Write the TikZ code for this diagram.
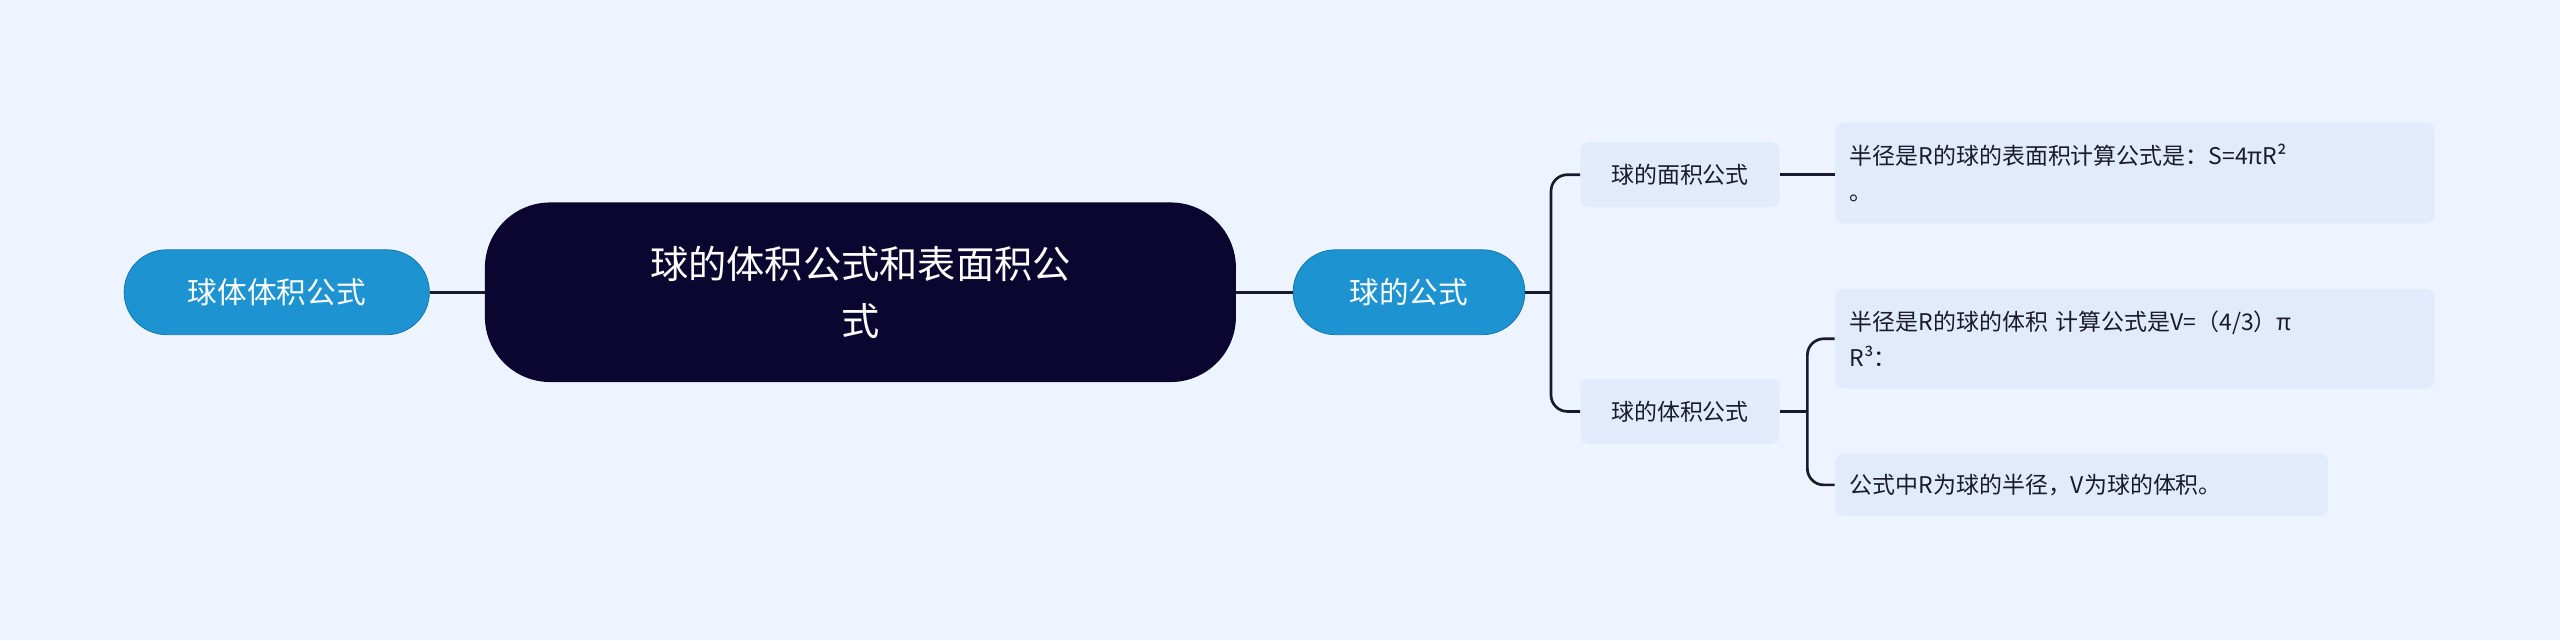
\documentclass[tikz,border=0pt]{standalone}
\usepackage{fontspec}
\setmainfont{Noto Sans CJK SC}
\definecolor{bg}{HTML}{EEF4FF}
\definecolor{blu}{HTML}{1D93D2}
\definecolor{drk}{HTML}{0B0630}
\definecolor{lt}{HTML}{E1EBFC}
\definecolor{ln}{HTML}{1A1A2E}
\begin{document}
\begin{tikzpicture}[x=0.03cm,y=-0.03cm,
  bluebox/.style={fill=blu,draw=blu!80!black,line width=0.4pt,rounded corners=26*0.03cm,text=white,font=\fontsize{15.5pt}{18pt}\selectfont,minimum height=52*0.03cm,inner sep=0pt},
  rootbox/.style={fill=drk,rounded corners=40*0.03cm,text=white,font=\fontsize{20pt}{30pt}\selectfont,minimum width=460*0.03cm,minimum height=110*0.03cm,align=center,text width=360*0.03cm,inner sep=0pt},
  midbox/.style={fill=lt,rounded corners=5*0.03cm,text=ln,font=\fontsize{12pt}{15pt}\selectfont,minimum width=122*0.03cm,minimum height=40*0.03cm,inner sep=0pt},
  leafbox/.style={fill=lt,rounded corners=5*0.03cm,text=ln,font=\fontsize{12pt}{19pt}\selectfont,align=left,inner sep=0pt,inner xsep=9*0.03cm},
  conn/.style={draw=ln,line width=1.4pt}]
\useasboundingbox[fill=bg] (0,0) rectangle (1568,392);
\node[rootbox] (root) at (527,179) {球的体积公式和表面积公\\式};
\node[bluebox,minimum width=187*0.03cm] (L) at (169.5,179) {球体体积公式};
\node[bluebox,minimum width=142*0.03cm] (R) at (863,179) {球的公式};
\node[midbox] (m1) at (1029,107) {球的面积公式};
\node[midbox] (m2) at (1029,252) {球的体积公式};
\node[leafbox,text width=349*0.03cm,minimum height=62*0.03cm] (a) at (1307.5,106) {半径是R的球的表面积计算公式是：S=4πR²\\。};
\node[leafbox,text width=349*0.03cm,minimum height=61*0.03cm] (b) at (1307.5,207.5) {半径是R的球的体积 计算公式是V=（4/3）π\\R³：};
\node[leafbox,text width=284*0.03cm,minimum height=38*0.03cm] (c) at (1275,297) {公式中R为球的半径，V为球的体积。};
\coordinate (j) at (950,179);
\coordinate (k) at (1107,252);
\draw[conn] (L.east) -- (root.west);
\draw[conn] (root.east) -- (R.west);
\draw[conn] (R.east) -- (j);
\draw[conn,rounded corners=10*0.03cm] (m1.west) -| (j) |- (m2.west);
\draw[conn] (m1.east) -- (a.west |- m1.east);
\draw[conn] (m2.east) -- (k);
\draw[conn,rounded corners=10*0.03cm] (b.west) -| (k) |- (c.west);
\end{tikzpicture}
\end{document}
